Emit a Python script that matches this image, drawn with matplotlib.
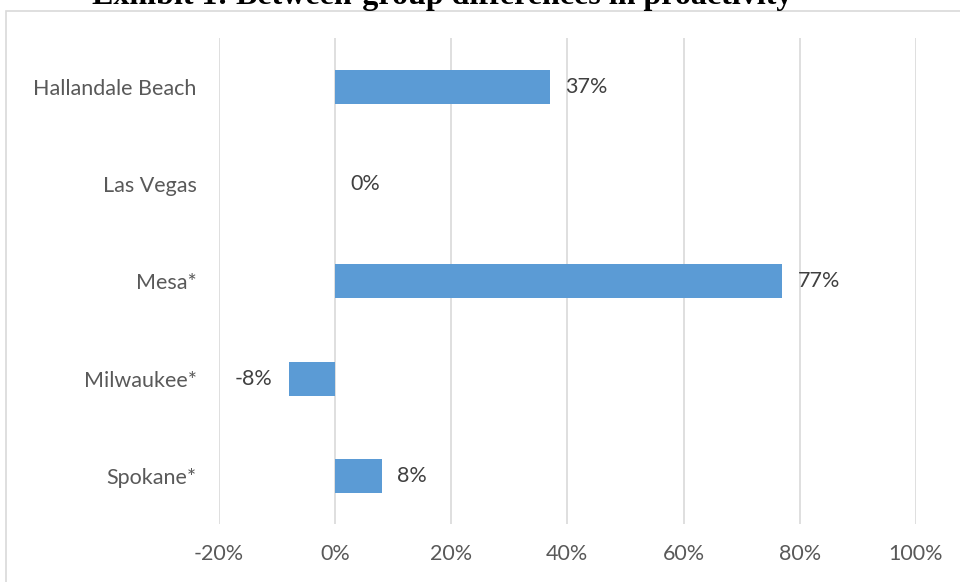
import matplotlib.pyplot as plt
from matplotlib.patches import Rectangle

cities = ['Hallandale Beach', 'Las Vegas', 'Mesa*', 'Milwaukee*', 'Spokane*']
values = [37, 0, 77, -8, 8]
ticks = [-20, 0, 20, 40, 60, 80, 100]

plt.rcParams['font.family'] = ['Lato', 'DejaVu Sans']

fig = plt.figure(figsize=(9.6, 5.82), dpi=100)
ax = fig.add_axes([0.228, 0.099, 0.726, 0.835])

# outer chart border
fig.patches.append(Rectangle((6 / 960, -0.1), 1.1, 1 - 11 / 582 + 0.1,
                             transform=fig.transFigure, fill=False,
                             edgecolor='#D9D9D9', linewidth=1.2))

pos = list(range(len(cities)))
ax.barh(pos, values, height=0.35, color='#5B9BD5', zorder=3)
for p, v in zip(pos, values):
    if v < 0:
        ax.annotate(f'{v}%', (v, p), xytext=(-12, 0), textcoords='offset points',
                    ha='right', va='center', fontsize=15.5, color='#404040')
    else:
        ax.annotate(f'{v}%', (v, p), xytext=(11, 0), textcoords='offset points',
                    ha='left', va='center', fontsize=15.5, color='#404040')

ax.set_ylim(len(cities) - 0.5, -0.5)
ax.set_xlim(-20, 100)
ax.set_yticks(pos)
ax.set_yticklabels(cities)
ax.set_xticks(ticks)
ax.set_xticklabels([f'{t}%' for t in ticks])
ax.tick_params(axis='both', length=0, labelsize=15.5, labelcolor='#595959')
ax.tick_params(axis='y', pad=16)
ax.tick_params(axis='x', pad=14)
ax.grid(axis='x', color='#D9D9D9', linewidth=1.2, zorder=0)
for s in ax.spines.values():
    s.set_visible(False)

fig.text(0.461, 1 - 4 / 582, 'Exhibit 1: Between-group differences in proactivity',
         ha='center', va='baseline', fontsize=23, fontweight='bold',
         family='Liberation Serif')

fig.savefig('out.png', dpi=100)
